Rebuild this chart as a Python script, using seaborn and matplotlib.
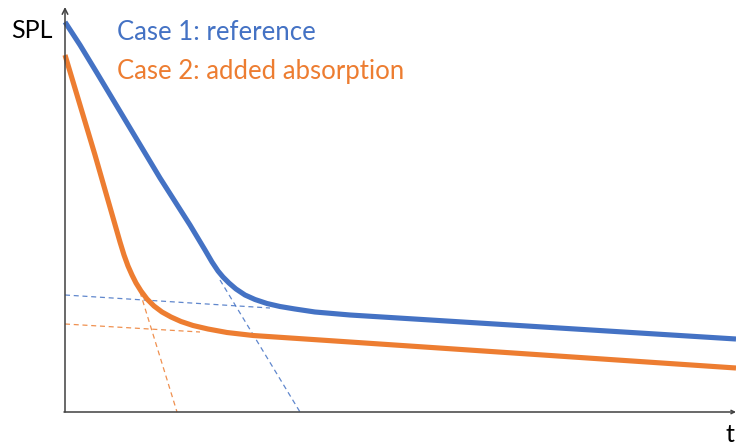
import numpy as np
import pandas as pd
import matplotlib
matplotlib.use("Agg")
import matplotlib.pyplot as plt
import seaborn as sns

# schematic decay curves, coordinates in pixel-like units (origin at the axes corner)
case1_t = [0, 15, 32, 65, 95, 125, 140, 147, 153, 158, 164, 171, 180, 190, 202, 215,
           230, 250, 285, 671]
case1_spl = [390, 367, 339, 284, 234, 187, 162, 150, 141, 135, 129, 123, 117, 112.5, 108.5, 105.5,
             103, 100, 97, 73]
case2_t = [0, 30, 55, 59, 63, 67, 71, 76, 82, 89, 97, 106, 116, 128, 143, 162, 188, 285, 671]
case2_spl = [357, 257, 170, 157, 146, 137, 129, 121, 113, 106, 100, 95, 90.5, 86.5, 83, 79.5,
             76.5, 70, 44]

# dashed asymptotes (start / end points)
case1_late_t = [0, 205]
case1_late_spl = [117, 104]
case1_early_t = [155, 235]
case1_early_spl = [132, 0]
case2_late_t = [0, 135]
case2_late_spl = [88, 80]
case2_early_t = [75, 112]
case2_early_spl = [120, 0]

blue = "#4472C4"
orange = "#ED7D31"

sns.set_style("white")
plt.rcParams["font.family"] = ["Lato", "DejaVu Sans"]

fig = plt.figure(figsize=(7.36, 4.46), dpi=100)
ax = fig.add_axes([0, 0, 1, 1])
ax.set_xlim(-65, 671)
ax.set_ylim(-34, 412)
ax.axis("off")

df1 = pd.DataFrame({"t": case1_t, "spl": case1_spl})
df2 = pd.DataFrame({"t": case2_t, "spl": case2_spl})

for t, s, c in [(case1_late_t, case1_late_spl, blue), (case1_early_t, case1_early_spl, blue),
                (case2_late_t, case2_late_spl, orange), (case2_early_t, case2_early_spl, orange)]:
    sns.lineplot(x=t, y=s, ax=ax, color=c, lw=0.9, sort=False, alpha=0.85,
                 linestyle=(0, (4, 3)))

sns.lineplot(data=df1, x="t", y="spl", ax=ax, color=blue, lw=3.7, sort=False,
             solid_joinstyle="round", solid_capstyle="butt")
sns.lineplot(data=df2, x="t", y="spl", ax=ax, color=orange, lw=3.7, sort=False,
             solid_joinstyle="round", solid_capstyle="butt")

# axes with arrows
axis_col = "#404040"
ax.annotate("", xy=(0, 405), xytext=(0, 0),
            arrowprops=dict(arrowstyle="->", color=axis_col, lw=1.1, shrinkA=0, shrinkB=0))
ax.annotate("", xy=(671, 0), xytext=(-1, 0),
            arrowprops=dict(arrowstyle="->", color=axis_col, lw=1.1, shrinkA=0, shrinkB=0,
                            mutation_scale=6))

ax.text(-33, 381, "SPL", fontsize=18, ha="center", va="center", color="black")
ax.text(665, -22, "t", fontsize=18, ha="center", va="center", color="black")
ax.text(52, 380, "Case 1: reference", fontsize=18.5, ha="left", va="center", color=blue)
ax.text(52, 340, "Case 2: added absorption", fontsize=18.5, ha="left", va="center", color=orange)

fig.savefig("out.png", dpi=100)
plt.close()
